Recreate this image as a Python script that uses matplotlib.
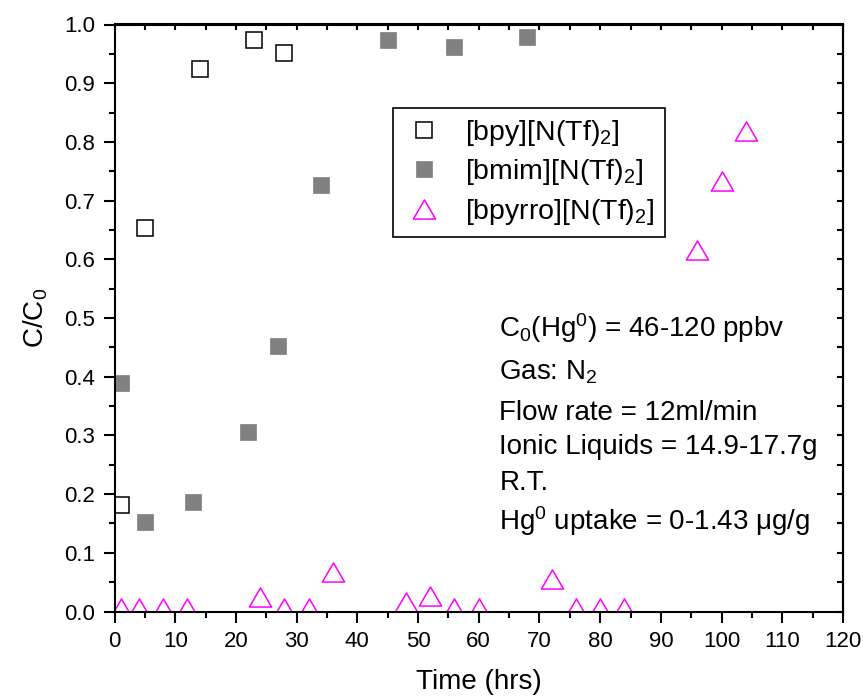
import matplotlib
matplotlib.use("Agg")
import matplotlib.pyplot as plt
from matplotlib.path import Path
from matplotlib.ticker import MultipleLocator

plt.rcParams['font.family'] = ['Liberation Sans', 'DejaVu Sans']
plt.rcParams['mathtext.fontset'] = 'custom'
plt.rcParams['mathtext.rm'] = 'Liberation Sans'
plt.rcParams['mathtext.it'] = 'Liberation Sans:italic'
plt.rcParams['mathtext.default'] = 'regular'

# data
bpy_t = [1, 5, 14, 23, 28]
bpy_c = [0.181, 0.653, 0.925, 0.974, 0.951]

bmim_t = [1, 5, 13, 22, 27, 34, 45, 56, 68]
bmim_c = [0.389, 0.153, 0.187, 0.306, 0.453, 0.727, 0.974, 0.962, 0.979]

bpyrro_t = [1, 4, 8, 12, 24, 28, 32, 36, 48, 52, 56, 60, 72, 76, 80, 84, 96, 100, 104]
bpyrro_c = [0.006, 0.006, 0.006, 0.006, 0.024, 0.006, 0.006, 0.068, 0.016, 0.027,
            0.006, 0.006, 0.055, 0.006, 0.006, 0.006, 0.616, 0.733, 0.818]

notes = ['C$_0$(Hg$^0$) = 46-120 ppbv',
         'Gas: N$_2$',
         'Flow rate = 12ml/min',
         'Ionic Liquids = 14.9-17.7g',
         'R.T.',
         'Hg$^0$ uptake = 0-1.43 \u03bcg/g']
note_y = [0.4676, 0.3944, 0.3262, 0.2683, 0.207, 0.1388]

fig = plt.figure(figsize=(8.63, 7.0), dpi=100)
ax = fig.add_axes([0.1327, 0.1264, 0.8441, 0.8386])

# slightly wide triangle, like the original marker
tri = Path([(-1, -0.86), (1, -0.86), (0, 0.86), (-1, -0.86)],
           [Path.MOVETO, Path.LINETO, Path.LINETO, Path.CLOSEPOLY])

ax.plot(bpy_t, bpy_c, ls='none', marker='s', ms=11.5, mfc='white', mec='black',
        mew=1.1, label='[bpy][N(Tf)$_2$]')
ax.plot(bmim_t, bmim_c, ls='none', marker='s', ms=12, mfc='#808080', mec='#808080',
        mew=0.5, label='[bmim][N(Tf)$_2$]')
ax.plot(bpyrro_t, bpyrro_c, ls='none', marker=tri, ms=16, mfc='none', mec='#ff00ff',
        mew=1.1, label='[bpyrro][N(Tf)$_2$]')

ax.set_xlim(0, 120)
ax.set_ylim(0, 1.0)
ax.xaxis.set_major_locator(MultipleLocator(10))
ax.xaxis.set_minor_locator(MultipleLocator(5))
ax.yaxis.set_major_locator(MultipleLocator(0.1))
ax.yaxis.set_minor_locator(MultipleLocator(0.05))
ax.yaxis.set_major_formatter(lambda v, p: f'{v:.1f}')

for s in ax.spines.values():
    s.set_linewidth(1.5)
ax.tick_params(which='both', direction='out', width=1.5, labelsize=16, pad=6)
ax.tick_params(which='major', length=8)
ax.tick_params(which='minor', length=4.5)

# inward ticks on top and right
top = ax.secondary_xaxis('top')
top.xaxis.set_major_locator(MultipleLocator(10))
top.xaxis.set_minor_locator(MultipleLocator(5))
top.tick_params(which='both', direction='in', width=1.5, length=4, labeltop=False)
right = ax.secondary_yaxis('right')
right.yaxis.set_major_locator(MultipleLocator(0.1))
right.yaxis.set_minor_locator(MultipleLocator(0.05))
right.tick_params(which='both', direction='in', width=1.5, length=4, labelright=False)
for sec in (top, right):
    for s in sec.spines.values():
        s.set_linewidth(1.5)

ax.set_xlabel('Time (hrs)', fontsize=20, labelpad=12)
ax.set_ylabel('C/C$_0$', fontsize=20, labelpad=10)

leg = ax.legend(loc='upper left', bbox_to_anchor=(0.382, 0.858), fontsize=20.5,
                frameon=True, fancybox=False, edgecolor='black', framealpha=1,
                handlelength=1.5, handletextpad=0.7, borderpad=0.35,
                labelspacing=0.33, borderaxespad=0)
leg.get_frame().set_linewidth(1.2)

for txt, y in zip(notes, note_y):
    ax.text(63.4, y, txt, fontsize=20, va='baseline', ha='left')

fig.savefig('out.png', dpi=100)
